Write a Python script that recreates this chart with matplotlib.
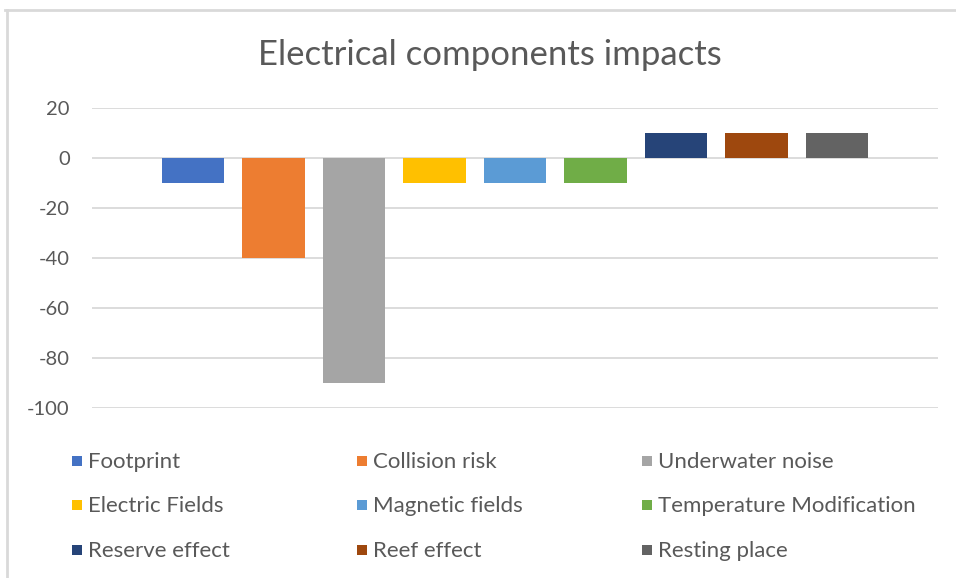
import matplotlib.pyplot as plt
from matplotlib.lines import Line2D
from matplotlib.patches import Rectangle

plt.rcParams['font.family'] = ['Lato', 'DejaVu Sans']

# data
series = ["Footprint", "Collision risk", "Underwater noise",
          "Electric Fields", "Magnetic fields", "Temperature Modification",
          "Reserve effect", "Reef effect", "Resting place"]
values = [-10, -40, -90, -10, -10, -10, 10, 10, 10]
colors = ["#4472C4", "#ED7D31", "#A5A5A5", "#FFC000", "#5B9BD5",
          "#70AD47", "#264478", "#9E480E", "#636363"]
yticks = [20, 0, -20, -40, -60, -80, -100]

W, H = 956, 578
fig = plt.figure(figsize=(W / 100, H / 100), dpi=100)

# plot area in pixels: x 92..938, y 108..408
ax = fig.add_axes([92 / W, 1 - 408 / H, (938 - 92) / W, 300 / H])

xs = list(range(len(series)))
ax.bar(xs, values, width=0.78, color=colors, zorder=3)

ax.set_xlim(4 - 5.255, 4 + 5.255)
ax.set_ylim(-100, 20)
ax.set_yticks(yticks)
ax.set_yticklabels([str(t) for t in yticks])
ax.set_xticks([])
ax.grid(axis='y', color='#D9D9D9', linewidth=1.3, zorder=0)
for s in ax.spines.values():
    s.set_visible(False)
ax.tick_params(axis='y', length=0, pad=16, labelsize=14.5, labelcolor='#595959')

fig.text(490 / W, 1 - 55 / H, "Electrical components impacts",
         ha='center', va='center', fontsize=25, color='#595959')

# legend laid out row by row like the original (3 columns)
col_x = [72, 357, 642]
row_y = [461, 505, 550]
for i, (name, c) in enumerate(zip(series, colors)):
    px = col_x[i % 3]
    py = row_y[i // 3]
    fig.add_artist(Rectangle((px / W, 1 - (py + 5) / H), 10 / W, 10 / H,
                             facecolor=c, edgecolor='none',
                             transform=fig.transFigure))
    fig.text((px + 16) / W, 1 - (py + 1) / H, name, ha='left', va='center',
             fontsize=16, color='#595959')

# chart frame (top and left edges only)
fig.add_artist(Line2D([5 / W, 1], [1 - 10 / H, 1 - 10 / H], color='#D9D9D9', lw=2))
fig.add_artist(Line2D([7 / W, 7 / W], [0, 1 - 10 / H], color='#D9D9D9', lw=2))

fig.savefig("out.png", dpi=100)
